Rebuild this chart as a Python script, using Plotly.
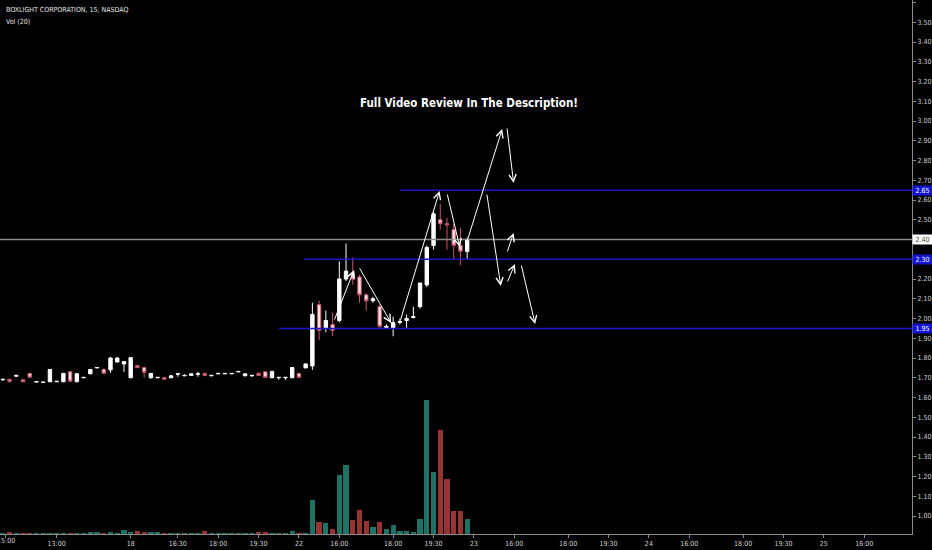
import plotly.graph_objects as go

# ---------------- data ----------------
bar_index = list(range(70))
opens = [1.690, 1.692, 1.708, 1.690, 1.722, 1.678, 1.676, 1.680, 1.680, 1.680,
         1.730, 1.680, 1.700, 1.720, 1.750, 1.742, 1.740, 1.780, 1.770, 1.700,
         1.762, 1.752, 1.700, 1.700, 1.700, 1.700, 1.718, 1.710, 1.712, 1.718,
         1.722, 1.710, 1.720, 1.720, 1.720, 1.730, 1.710, 1.710, 1.722, 1.730,
         1.700, 1.700, 1.700, 1.700, 1.722, 1.750,
         1.76, 2.07, 1.95, 1.97, 1.99, 2.20, 2.23, 2.21, 2.12, 2.09,
         2.06, 1.955, 1.95, 1.98, 1.99, 2.005, 2.06, 2.17, 2.37, 2.50,
         2.48, 2.45, 2.37, 2.34]
highs = [1.695, 1.695, 1.712, 1.692, 1.725, 1.682, 1.678, 1.745, 1.684, 1.725,
         1.735, 1.725, 1.703, 1.745, 1.755, 1.748, 1.805, 1.805, 1.785, 1.805,
         1.765, 1.755, 1.725, 1.703, 1.703, 1.712, 1.722, 1.718, 1.722, 1.730,
         1.725, 1.712, 1.725, 1.722, 1.722, 1.733, 1.722, 1.712, 1.728, 1.732,
         1.735, 1.702, 1.702, 1.755, 1.725, 1.772,
         2.08, 2.09, 2.04, 2.03, 2.29, 2.38, 2.31, 2.22, 2.13, 2.11,
         2.07, 1.97, 2.01, 2.00, 2.02, 2.06, 2.07, 2.37, 2.55, 2.58,
         2.51, 2.48, 2.46, 2.41]
lows = [1.685, 1.675, 1.705, 1.678, 1.700, 1.676, 1.674, 1.678, 1.678, 1.678,
        1.680, 1.677, 1.698, 1.718, 1.748, 1.720, 1.725, 1.778, 1.730, 1.698,
        1.748, 1.700, 1.695, 1.698, 1.690, 1.698, 1.705, 1.708, 1.710, 1.705,
        1.708, 1.708, 1.718, 1.718, 1.718, 1.728, 1.708, 1.705, 1.710, 1.700,
        1.698, 1.690, 1.690, 1.698, 1.700, 1.748,
        1.74, 1.89, 1.93, 1.91, 1.98, 2.19, 2.17, 2.08, 2.04, 2.08,
        1.95, 1.95, 1.91, 1.97, 1.95, 2.00, 2.05, 2.16, 2.35, 2.45,
        2.35, 2.30, 2.27, 2.30]
closes = [1.692, 1.682, 1.712, 1.680, 1.703, 1.681, 1.678, 1.742, 1.682, 1.722,
          1.683, 1.720, 1.702, 1.742, 1.752, 1.722, 1.800, 1.800, 1.782, 1.802,
          1.752, 1.728, 1.722, 1.702, 1.693, 1.710, 1.720, 1.712, 1.720, 1.720,
          1.712, 1.712, 1.722, 1.722, 1.722, 1.732, 1.720, 1.712, 1.712, 1.702,
          1.732, 1.702, 1.702, 1.752, 1.702, 1.770,
          2.02, 1.94, 1.99, 1.94, 2.20, 2.24, 2.20, 2.12, 2.09, 2.10,
          1.96, 1.96, 1.98, 1.985, 2.00, 2.01, 2.18, 2.36, 2.53, 2.48,
          2.475, 2.37, 2.34, 2.40]
volumes_k = [4, 9, 4, 4, 4, 4, 4, 4, 4, 4,
             4, 4, 4, 9, 9, 4, 9, 4, 18, 9,
             13, 9, 9, 9, 4, 4, 4, 4, 4, 4,
             13, 4, 4, 4, 4, 4, 4, 4, 9, 9,
             4, 4, 4, 13, 4, 4,
             153, 54, 50, 22, 266, 311, 63, 108, 59, 32,
             54, 22, 40, 14, 14, 9, 68, 603, 279, 468,
             248, 104, 104, 68]

tick_positions = [0.4, 8, 19, 26, 32, 38, 44, 50, 58, 64, 70, 76, 84, 90,
                  96, 102, 110, 116, 122, 128]
tick_labels = ["15:00", "13:00", "18", "16:30", "18:00", "19:30", "22", "16:00",
               "18:00", "19:30", "23", "16:00", "18:00", "19:30", "24", "16:00",
               "18:00", "19:30", "25", "16:00"]
price_ticks = [round(1.0 + 0.1 * k, 2) for k in range(27)]

level_prices = [2.65, 2.30, 1.95]
level_starts = [59.0, 44.7, 41.0]
last_price = 2.40

# drawn arrows: (tail_x, tail_y, head_x, head_y)
arrows = [
    (49.2, 1.987, 52.2, 2.246),
    (52.9, 2.261, 57.7, 1.977),
    (59.0, 1.982, 64.9, 2.646),
    (66.0, 2.635, 67.9, 2.362),
    (68.95, 2.387, 74.2, 2.959),
    (74.9, 2.970, 75.9, 2.686),
    (71.9, 2.635, 74.0, 2.165),
    (74.9, 2.332, 75.9, 2.433),
    (74.9, 2.180, 76.1, 2.276),
    (77.0, 2.276, 79.1, 1.972),
]

# ---------------- figure ----------------
FONT = "Liberation Sans Narrow, DejaVu Sans Condensed, Arial Narrow, sans-serif"
TEAL = "#1f7364"
RED = "#963434"

vol_colors = [TEAL if c >= o else RED for o, c in zip(opens, closes)]
boxed = set(level_prices + [last_price])
price_text = ["" if v in boxed else f"{v:.2f}" for v in price_ticks]
# the first time label sits at the very left edge and is drawn as an annotation
x_text = [""] + tick_labels[1:]

fig = go.Figure()
fig.add_trace(go.Bar(
    x=bar_index, y=volumes_k, marker=dict(color=vol_colors, line=dict(width=0)),
    width=0.78, yaxis="y2", hoverinfo="skip", showlegend=False,
))
fig.add_trace(go.Candlestick(
    x=bar_index, open=opens, high=highs, low=lows, close=closes,
    increasing=dict(line=dict(color="#ffffff", width=1), fillcolor="#ffffff"),
    decreasing=dict(line=dict(color="#c9566a", width=1), fillcolor="#fbe3e8"),
    whiskerwidth=0, showlegend=False,
))

shapes = [dict(type="line", xref="paper", yref="y", x0=0, x1=1,
               y0=last_price, y1=last_price,
               line=dict(color="#8c8c8c", width=1.5), layer="above")]
for lp, ls in zip(level_prices, level_starts):
    shapes.append(dict(type="line", xref="x", yref="y", x0=ls, x1=135.1,
                       y0=lp, y1=lp, line=dict(color="#1818c8", width=1.5),
                       layer="above"))

annotations = []
for tx, ty, hx, hy in arrows:
    annotations.append(dict(
        x=hx, y=hy, ax=tx, ay=ty, xref="x", yref="y", axref="x", ayref="y",
        text="", showarrow=True, arrowhead=5, arrowsize=1.4, arrowwidth=1,
        arrowcolor="#ffffff", standoff=0, startstandoff=0,
    ))
for lp in level_prices:
    annotations.append(dict(
        x=1, xref="paper", y=lp, yref="y", xanchor="left", yanchor="middle",
        text=f"{lp:.2f}", showarrow=False, bgcolor="#1414d6",
        font=dict(family=FONT, size=7, color="#ffffff"),
        width=19, height=9, borderpad=0, align="center",
    ))
annotations.append(dict(
    x=1, xref="paper", y=last_price, yref="y", xanchor="left", yanchor="middle",
    text=f"{last_price:.2f}", showarrow=False, bgcolor="#ffffff",
    font=dict(family=FONT, size=7, color="#444444"),
    width=19, height=9, borderpad=0, align="center",
))
annotations.append(dict(
    x=69.2, y=3.09, xref="x", yref="y", text="<b>Full Video Review In The Description!</b>",
    showarrow=False, font=dict(family="DejaVu Sans Condensed, sans-serif", size=11.5,
                               color="#ffffff"),
))
annotations.append(dict(
    x=tick_positions[0], xref="x", y=-0.0135, yref="paper",
    xanchor="center", yanchor="middle", text=tick_labels[0], showarrow=False,
    font=dict(family=FONT, size=7, color="#cfcfcf"),
))
annotations.append(dict(
    x=4 / 912, y=1 - 10 / 534, xref="paper", yref="paper", xanchor="left",
    yanchor="middle", text="BOXLIGHT CORPORATION, 15, NASDAQ", showarrow=False,
    font=dict(family=FONT, size=7, color="#e6e6e6"),
))
annotations.append(dict(
    x=4 / 912, y=1 - 22 / 534, xref="paper", yref="paper", xanchor="left",
    yanchor="middle", text="Vol (20)", showarrow=False,
    font=dict(family=FONT, size=7, color="#e6e6e6"),
))

fig.update_layout(
    width=932, height=550,
    margin=dict(l=0, r=20, t=0, b=16),
    paper_bgcolor="#000000", plot_bgcolor="#000000",
    showlegend=False, bargap=0, boxgap=0.28,
    shapes=shapes, annotations=annotations,
    xaxis=dict(
        range=[-0.42, 135.1], rangeslider=dict(visible=False),
        tickmode="array", tickvals=tick_positions, ticktext=x_text,
        showgrid=False, zeroline=False, showline=True, linecolor="#8a8a8a",
        linewidth=1, ticks="outside", ticklen=3, tickcolor="#8a8a8a",
        tickfont=dict(family=FONT, size=7, color="#cfcfcf"),
    ),
    yaxis=dict(
        range=[0.909, 3.6127], side="right", tickmode="array",
        tickvals=price_ticks, ticktext=price_text,
        showgrid=False, zeroline=False, showline=True, linecolor="#8a8a8a",
        linewidth=1, ticks="outside", ticklen=3, tickcolor="#8a8a8a",
        tickfont=dict(family=FONT, size=7, color="#cfcfcf"),
    ),
    yaxis2=dict(range=[0, 2403], overlaying="y", visible=False),
)

fig.write_html(
    "out.html",
    config={"displayModeBar": False},
    post_script="document.body.style.margin='0';document.body.style.background='#000';",
)
